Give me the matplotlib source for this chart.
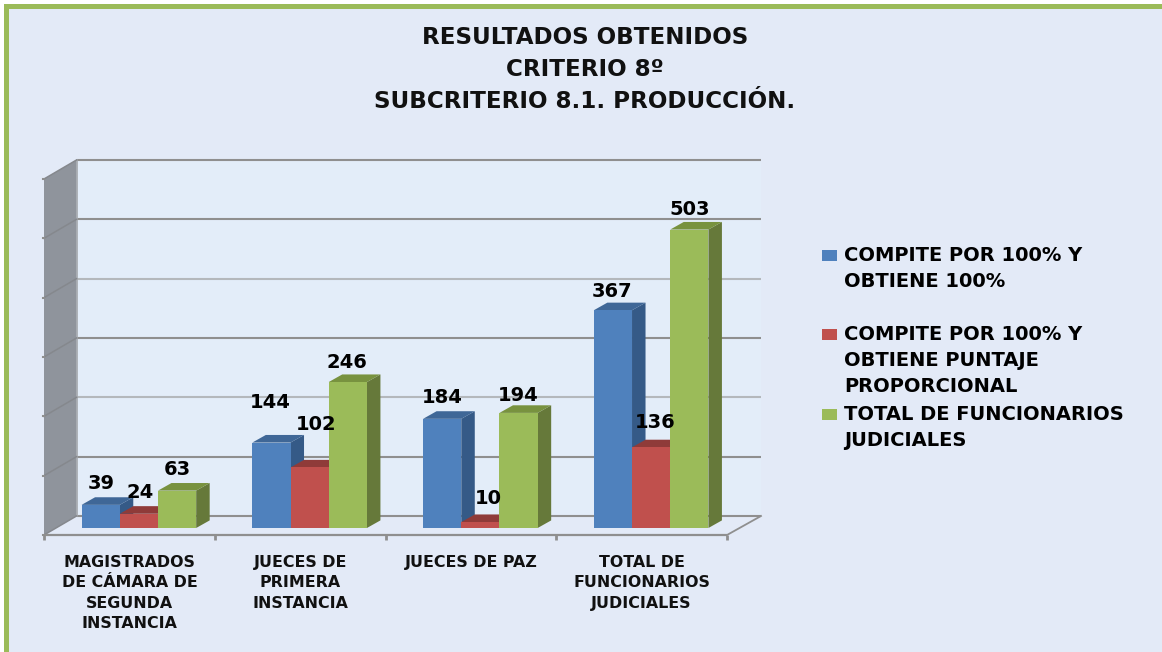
import matplotlib
matplotlib.use("Agg")
import matplotlib.pyplot as plt
from matplotlib.patches import Polygon, Rectangle

W, H = 1162, 652

categories = ["MAGISTRADOS\nDE CÁMARA DE\nSEGUNDA\nINSTANCIA",
              "JUECES DE\nPRIMERA\nINSTANCIA",
              "JUECES DE PAZ",
              "TOTAL DE\nFUNCIONARIOS\nJUDICIALES"]
series_names = ["COMPITE POR 100% Y\nOBTIENE 100%",
                "COMPITE POR 100% Y\nOBTIENE PUNTAJE\nPROPORCIONAL",
                "TOTAL DE FUNCIONARIOS\nJUDICIALES"]
compite_100 = [39, 144, 184, 367]
compite_prop = [24, 102, 10, 136]
total_func = [63, 246, 194, 503]
series = [compite_100, compite_prop, total_func]
title = "RESULTADOS OBTENIDOS\nCRITERIO 8º\nSUBCRITERIO 8.1. PRODUCCIÓN."
grid_values = [0, 100, 200, 300, 400, 500, 600]
faint_grid_values = [200, 400]

front = ["#4f81bd", "#c0504d", "#9bbb59"]
top = ["#3f6797", "#8f3b39", "#78923f"]
side = ["#355a87", "#8c3836", "#66793a"]
label_offsets = [[(1, 21), (-1, 40), (0, 21), (-1, 19)],
                 [(1, 21), (6, 43), (8, 24), (4, 25)],
                 [(0, 21), (-1, 20), (0, 17), (0, 20)]]

BG = "#e3eaf7"
WALL = "#e3edf9"
GRID = "#8f8f8f"
GRID_FAINT = "#b4b8bc"


def fx(x):
    return x / W


def fy(y):
    return 1 - y / H


fig = plt.figure(figsize=(W / 100, H / 100), dpi=100, facecolor="white")
fig.patches.append(Rectangle((fx(4), 0), 1 - fx(4), fy(4), transform=fig.transFigure,
                             facecolor="#9bbb59", edgecolor="none", zorder=-3))
fig.patches.append(Rectangle((fx(9), 0), 1 - fx(9), fy(9), transform=fig.transFigure,
                             facecolor=BG, edgecolor="none", zorder=-2))

# front plane of the 3-D box
L, R, B, T = 44, 727, 535, 179
ax = fig.add_axes([fx(L), fy(B), (R - L) / W, (B - T) / H])
ax.set_xlim(0, 4)
ax.set_ylim(0, 600)
ax.axis("off")
ax.patch.set_visible(False)

px_x = 4 / (R - L)
px_y = 600 / (B - T)
DX, DY = 32.5 * px_x, 19 * px_y          # wall depth
RIGHT = 4 + DX + 1.5 * px_x
BDX, BDY = 13.5 * px_x, 7.6 * px_y        # bar depth
SX, SY = 9.5 * px_x, 7 * px_y             # bar position on the floor
WIDTH = 38.2 * px_x

# walls
ax.add_patch(Polygon([(DX, DY), (RIGHT, DY), (RIGHT, 600 + DY), (DX, 600 + DY)],
                     facecolor=WALL, edgecolor="none", clip_on=False, zorder=1))
ax.add_patch(Polygon([(0, 0), (DX, DY), (DX, 600 + DY), (0, 600)],
                     facecolor="#8f949c", edgecolor="none", clip_on=False, zorder=2))
ax.plot([DX, DX], [DY, 600 + DY], color="#a4a8ad", lw=1.2, clip_on=False, zorder=2.2)
for v in grid_values:
    ax.plot([DX, RIGHT], [v + DY, v + DY], color=GRID_FAINT if v in faint_grid_values else GRID,
            lw=1.5, clip_on=False, zorder=2.1, solid_capstyle="butt")
    ax.plot([0, DX], [v, v + DY], color="#85888d", lw=1.1, clip_on=False, zorder=2.3)
    ax.plot([-1.5 * px_x, 0], [v, v], color=GRID, lw=1.5, clip_on=False, zorder=2.3)

# floor edges and ticks
ax.plot([0, 4], [0, 0], color=GRID, lw=1.6, clip_on=False, zorder=2.4, solid_capstyle="butt")
ax.plot([4, RIGHT], [0, DY], color=GRID, lw=1.3, clip_on=False, zorder=2.4)
for i in range(5):
    ax.plot([i, i], [0, -5 * px_y], color=GRID, lw=2, clip_on=False, zorder=2.4,
            solid_capstyle="butt")

# bars
z = 3.0
for c in range(len(categories)):
    for s, vals in enumerate(series):
        v = vals[c]
        x0 = c + 0.5 + SX + (s - 1.5) * WIDTH
        x1 = x0 + WIDTH
        y0 = SY
        y1 = SY + v
        ax.add_patch(Polygon([(x1, y0), (x1 + BDX, y0 + BDY), (x1 + BDX, y1 + BDY), (x1, y1)],
                             facecolor=side[s], edgecolor="none", clip_on=False, zorder=z))
        ax.add_patch(Polygon([(x0, y1), (x1, y1), (x1 + BDX, y1 + BDY), (x0 + BDX, y1 + BDY)],
                             facecolor=top[s], edgecolor="none", clip_on=False, zorder=z + 0.01))
        ax.bar(x0, v, width=WIDTH, bottom=y0, align="edge", color=front[s],
               clip_on=False, zorder=z + 0.02)
        z += 0.1

# value labels
for s, vals in enumerate(series):
    for c, v in enumerate(vals):
        xc = c + 0.5 + SX + (s - 1) * WIDTH
        ax.annotate(str(v), xy=(xc, SY + v), xytext=label_offsets[s][c],
                    textcoords="offset pixels", ha="center", va="center",
                    fontsize=14, fontweight="bold", color="black", family="DejaVu Sans",
                    annotation_clip=False, zorder=20)

# category labels
for i, name in enumerate(categories):
    ax.annotate(name, xy=(i + 0.5, 0), xytext=(0, -20), textcoords="offset pixels",
                ha="center", va="top", fontsize=11.4, fontweight="bold", linespacing=1.44,
                color="#111111", family="DejaVu Sans", annotation_clip=False)

# title
fig.text(fx(585), fy(70), title, ha="center", va="center", fontsize=16.6, fontweight="bold",
         linespacing=1.5, color="#111111", family="DejaVu Sans")

# legend
swatch_y = [255, 334, 414]
for name, color, y in zip(series_names, front, swatch_y):
    fig.patches.append(Rectangle((fx(822), fy(y + 5.5)), 15 / W, 11 / H,
                                 transform=fig.transFigure, facecolor=color, edgecolor="none"))
    for k, line in enumerate(name.split("\n")):
        fig.text(fx(844), fy(y + 26 * k), line, ha="left", va="center", fontsize=14,
                 fontweight="bold", color="black", family="DejaVu Sans")

fig.savefig("out.png", dpi=100, facecolor="white")
